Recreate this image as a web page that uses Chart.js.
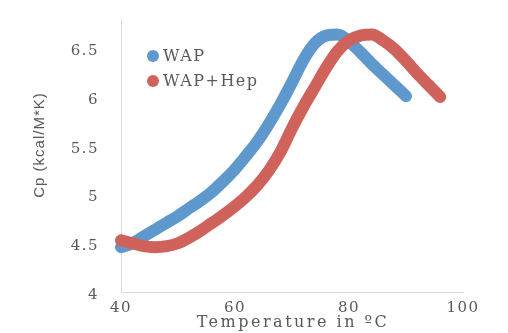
<!DOCTYPE html>
<html>
<head>
<meta charset="utf-8">
<script src="https://cdn.jsdelivr.net/npm/chart.js@4/dist/chart.umd.min.js"></script>
<style>
    html, body { margin: 0; padding: 0; background: #fff; }
    #wrap { width: 508px; height: 333px; position: relative; }
</style>
</head>
<body>
<div id="wrap"><canvas id="cpChart"></canvas></div>
<script>
// Heat capacity scans, temperature in degrees C vs Cp in kcal/M*K
const wapTemp = [40, 42, 44, 46, 48, 50, 52, 54, 56, 58, 60, 62, 64, 66, 68, 70, 72, 74, 76, 78, 80, 82, 84, 86, 88, 90];
const wapCp = [4.46, 4.50, 4.57, 4.64, 4.71, 4.78, 4.86, 4.94, 5.03, 5.14, 5.26, 5.40, 5.55, 5.73, 5.93, 6.15, 6.38, 6.55, 6.63, 6.64, 6.57, 6.46, 6.34, 6.23, 6.12, 6.01];

const hepTemp = [40, 42, 44, 46, 48, 50, 52, 54, 56, 58, 60, 62, 64, 66, 68, 70, 72, 74, 76, 78, 80, 82, 84, 86, 88, 90, 92, 94, 96];
const hepCp = [4.53, 4.50, 4.47, 4.46, 4.47, 4.50, 4.56, 4.63, 4.71, 4.79, 4.88, 4.98, 5.10, 5.25, 5.44, 5.68, 5.90, 6.10, 6.30, 6.47, 6.58, 6.63, 6.64, 6.58, 6.49, 6.37, 6.24, 6.12, 6.00];

const seriesNames = ["WAP", "WAP+Hep"];
const xTicks = [40, 60, 80, 100];
const yTicks = [4, 4.5, 5, 5.5, 6, 6.5];
const xTitle = "Temperature in ºC";
const yTitle = "Cp (kcal/M*K)";

const textGray = "#595959";
const serif = '"DejaVu Serif", serif';

function toPoints(xs, ys) {
    return xs.map(function (x, i) { return { x: x, y: ys[i] }; });
}

// Spaced-out lettering for tick labels and legend
const spacing = {
    id: "spacing",
    beforeLayout: function (chart) { chart.ctx.letterSpacing = "1.5px"; },
    beforeDraw: function (chart) { chart.ctx.letterSpacing = "1.5px"; }
};

// Legend inside the plot (top-left) plus both axis titles
const annotations = {
    id: "annotations",
    afterDraw: function (chart) {
        const ctx = chart.ctx;
        const area = chart.chartArea;
        ctx.save();
        ctx.font = "16px " + serif;
        ctx.letterSpacing = "1.5px";
        ctx.textBaseline = "middle";
        ctx.textAlign = "left";
        chart.data.datasets.forEach(function (ds, i) {
            const y = area.top + 37 + i * 25;
            ctx.fillStyle = ds.borderColor;
            ctx.beginPath();
            ctx.arc(area.left + 32, y, 6, 0, Math.PI * 2);
            ctx.fill();
            ctx.fillStyle = textGray;
            ctx.fillText(ds.label, area.left + 42, y + 1);
        });

        ctx.fillStyle = textGray;
        ctx.textAlign = "center";
        ctx.font = "16px " + serif;
        ctx.letterSpacing = "2.5px";
        ctx.fillText(xTitle, (area.left + area.right) / 2 + 1, 323);

        ctx.font = '15px "Liberation Sans", sans-serif';
        ctx.letterSpacing = "1px";
        ctx.translate(40, 145);
        ctx.rotate(-Math.PI / 2);
        ctx.fillText(yTitle, 0, 0);
        ctx.restore();
    }
};

const ctx = document.getElementById("cpChart").getContext("2d");
new Chart(ctx, {
    type: "line",
    data: {
        datasets: [
            {
                label: seriesNames[0],
                data: toPoints(wapTemp, wapCp),
                borderColor: "#5e98cd",
                order: 1
            },
            {
                label: seriesNames[1],
                data: toPoints(hepTemp, hepCp),
                borderColor: "#d0625c",
                order: 0
            }
        ]
    },
    options: {
        responsive: true,
        maintainAspectRatio: false,
        animation: false,
        layout: { padding: { top: 19, right: 45, bottom: 0, left: 0 } },
        elements: {
            line: {
                borderWidth: 12,
                borderCapStyle: "round",
                borderJoinStyle: "round",
                cubicInterpolationMode: "monotone",
                fill: false
            },
            point: { radius: 0, hoverRadius: 0 }
        },
        datasets: { line: { clip: false } },
        plugins: {
            legend: { display: false },
            tooltip: { enabled: false }
        },
        scales: {
            x: {
                type: "linear",
                min: 40,
                max: 100,
                grid: { display: false, drawTicks: false },
                border: { display: true, color: "#d9d9d9", width: 1 },
                afterBuildTicks: function (scale) {
                    scale.ticks = xTicks.map(function (v) { return { value: v }; });
                },
                afterFit: function (scale) {
                    scale.height = 41;
                    scale.paddingLeft = 0;
                    scale.paddingRight = 0;
                },
                ticks: {
                    color: textGray,
                    font: { family: serif, size: 15 },
                    padding: 7,
                    maxRotation: 0,
                    callback: function (v) { return String(v); }
                }
            },
            y: {
                type: "linear",
                min: 4,
                max: 6.8,
                grid: { display: false, drawTicks: false },
                border: { display: true, color: "#d9d9d9", width: 1 },
                afterBuildTicks: function (scale) {
                    scale.ticks = yTicks.map(function (v) { return { value: v }; });
                },
                afterFit: function (scale) {
                    scale.width = 121;
                    scale.paddingTop = 0;
                    scale.paddingBottom = 0;
                },
                ticks: {
                    color: textGray,
                    font: { family: serif, size: 15 },
                    padding: 22,
                    labelOffset: 3,
                    callback: function (v) { return String(v); }
                }
            }
        }
    },
    plugins: [spacing, annotations]
});
</script>
</body>
</html>
